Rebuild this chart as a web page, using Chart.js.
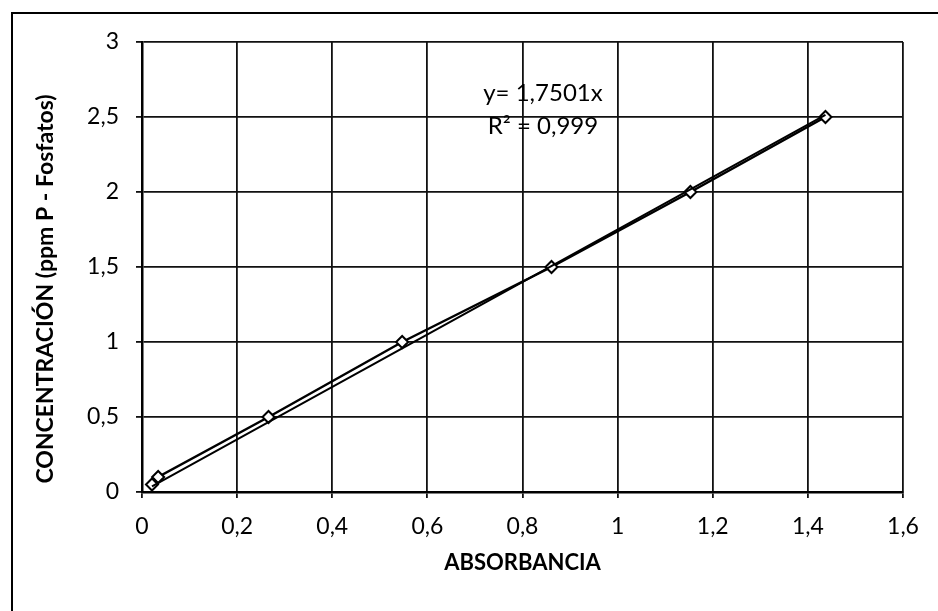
<!DOCTYPE html>
<html>
<head>
<meta charset="utf-8">
<script src="https://cdn.jsdelivr.net/npm/chart.js@4.4.1/dist/chart.umd.min.js"></script>
<style>
  html, body { margin: 0; padding: 0; background: #fff; }
  #wrap { position: relative; width: 938px; height: 611px; overflow: hidden; }
  #frame { position: absolute; left: 11px; top: 12px; width: 940px; height: 620px;
           border-left: 2px solid #000; border-top: 2px solid #000; pointer-events: none; }
  canvas { position: absolute; left: 0; top: 0; }
</style>
</head>
<body>
<div id="wrap">
  <canvas id="c" width="938" height="611"></canvas>
  <div id="frame"></div>
</div>
<script>
// ---- data ----
const absorbancia   = [0.021, 0.034, 0.266, 0.547, 0.861, 1.153, 1.437];
const concentracion = [0.05, 0.10, 0.50, 1.00, 1.50, 2.00, 2.50];
const trendSlope = 1.7501;                 // y = 1,7501x (trendline through origin)
const trendLabel = ["y= 1,7501x", "R\u00B2 = 0,999"];
const xTickLabels = ["0", "0,2", "0,4", "0,6", "0,8", "1", "1,2", "1,4", "1,6"];
const yTickLabels = ["0", "0,5", "1", "1,5", "2", "2,5", "3"];
const xTitle = "ABSORBANCIA";
const yTitle = "CONCENTRACI\u00D3N (ppm P - Fosfatos)";

const points = absorbancia.map((x, i) => ({ x: x, y: concentracion[i] }));
const xMinData = Math.min(...absorbancia), xMaxData = Math.max(...absorbancia);
const trendPoints = [xMinData, xMaxData].map(x => ({ x: x, y: trendSlope * x }));

const FONT = "Lato, 'Open Sans', sans-serif";

const extras = {
  id: 'extras',
  afterDraw(chart) {
    const ctx = chart.ctx;
    const xs = chart.scales.x, ys = chart.scales.y;
    ctx.save();
    ctx.fillStyle = '#000';
    // equation label
    ctx.font = "24px " + FONT;
    ctx.textAlign = 'center';
    ctx.textBaseline = 'middle';
    ctx.fillText(trendLabel[0], xs.getPixelForValue(0.843), ys.getPixelForValue(2.66));
    ctx.fillText(trendLabel[1], xs.getPixelForValue(0.843), ys.getPixelForValue(2.44));
    // y axis title
    ctx.translate(46, 289);
    ctx.rotate(-Math.PI / 2);
    ctx.font = "bold 23px " + FONT;
    ctx.fillText(yTitle, 0, 0);
    ctx.restore();
  }
};

new Chart(document.getElementById('c'), {
  type: 'scatter',
  data: {
    datasets: [
      {
        label: 'Tendencia',
        data: trendPoints,
        showLine: true,
        borderColor: '#000',
        borderWidth: 2,
        pointRadius: 0,
        fill: false
      },
      {
        label: 'Datos',
        data: points,
        showLine: true,
        borderColor: '#000',
        borderWidth: 2.5,
        pointStyle: 'rectRot',
        pointRadius: 6,
        pointBorderWidth: 2,
        pointBackgroundColor: '#fff',
        pointBorderColor: '#000',
        fill: false
      }
    ]
  },
  options: {
    responsive: false,
    animation: false,
    devicePixelRatio: 1,
    layout: { padding: { left: 0, top: 42, right: 35, bottom: 0 } },
    plugins: { legend: { display: false }, tooltip: { enabled: false } },
    scales: {
      x: {
        type: 'linear', min: 0, max: 1.6,
        afterFit(s) { s.height = 119; },
        ticks: {
          stepSize: 0.2, color: '#000', padding: 15,
          font: { family: FONT, size: 23 },
          callback: (v, i) => xTickLabels[i]
        },
        grid: { color: '#111', lineWidth: 1.8, tickLength: 6 },
        border: { display: true, color: '#000', width: 2.5 },
        title: { display: true, text: xTitle, color: '#000',
                 font: { family: FONT, size: 22, weight: 'bold' },
                 padding: { top: 0, bottom: 35 } }
      },
      y: {
        type: 'linear', min: 0, max: 3,
        afterFit(s) { s.width = 142; },
        ticks: {
          stepSize: 0.5, color: '#000', padding: 17,
          font: { family: FONT, size: 23 },
          callback: (v, i) => yTickLabels[i]
        },
        grid: { color: '#111', lineWidth: 1.8, tickLength: 6 },
        border: { display: true, color: '#000', width: 2.5 }
      }
    }
  },
  plugins: [extras]
});
</script>
</body>
</html>
